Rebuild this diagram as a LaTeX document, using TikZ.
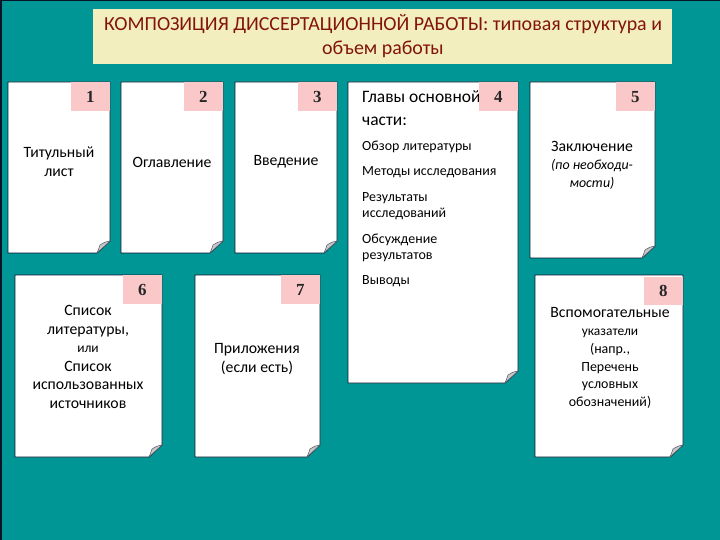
\documentclass[tikz,border=0pt]{standalone}
\usepackage{fontspec}
\setmainfont{Carlito}
\newfontfamily\numfont{Liberation Serif}
\definecolor{bgteal}{RGB}{0,150,150}
\definecolor{titlefill}{RGB}{242,238,190}
\definecolor{titletext}{RGB}{130,20,10}
\definecolor{numfill}{RGB}{250,200,200}
\definecolor{edgecol}{RGB}{10,20,40}
\tikzset{
  pageline/.style={fill=white, draw=edgecol, line width=0.9bp},
  flap/.style={fill=black!22, draw=edgecol!70, line width=0.5bp},
  numbox/.style={fill=numfill, inner sep=0pt, minimum width=39bp, minimum height=29bp, anchor=north east, font=\numfont\bfseries\fontsize{17}{18}\selectfont, text=black!85},
  ptext/.style={align=center, font=\fontsize{15.8}{19}\selectfont, text=black, inner sep=0pt},
  ltext/.style={align=left, anchor=west, font=\fontsize{14}{16}\selectfont, text=black, inner sep=0pt},
}
\newcommand{\dpage}[4]{%
  \draw[pageline] (#1,#2) -- (#3,#2) -- (#3,#4-12) -- (#3-13,#4) -- (#1,#4) -- cycle;
  \draw[flap] (#3,#4-12) .. controls (#3-5,#4-11) .. (#3-10,#4-8) .. controls (#3-11,#4-5) .. (#3-13,#4) -- cycle;
}
\begin{document}
\begin{tikzpicture}[x=1bp,y=-1bp]
\useasboundingbox (0,0) rectangle (720,540);
\fill[bgteal] (0,0) rectangle (720,540);
\draw[edgecol, line width=3bp] (0,540) -- (0,0) -- (720,0);
% title
\node[fill=titlefill, minimum width=579bp, minimum height=55bp, anchor=north west, inner sep=0pt] (title) at (93,9) {};
\node[text=titletext, align=center, font=\fontsize{20}{24}\selectfont] (titletxt) at (383,36) {КОМПОЗИЦИЯ ДИССЕРТАЦИОННОЙ РАБОТЫ: типовая структура и\\объем работы};
% pages
\dpage{8}{82}{110}{253}
\dpage{121}{82}{223}{253}
\dpage{235}{82}{337}{253}
\dpage{348}{82}{518}{383}
\dpage{530}{82}{655}{258}
\dpage{15}{275}{162}{457}
\dpage{195}{275}{320}{457}
\dpage{535}{275}{683}{457}
% texts
\node[ptext] (t1) at (59,162) {Титульный\\лист};
\node[ptext] (t2) at (172,162) {Оглавление};
\node[ptext] (t3) at (286,162) {Введение};
\node[ltext, font=\fontsize{17.5}{23}\selectfont] (t4a) at (362,108) {Главы основной\\части:};
\node[ltext] (t4b) at (362,147) {Обзор литературы};
\node[ltext] (t4c) at (362,172) {Методы исследования};
\node[ltext, font=\fontsize{14}{15.5}\selectfont] (t4d) at (362,206) {Результаты\\исследований};
\node[ltext, font=\fontsize{14}{15.5}\selectfont] (t4e) at (362,248) {Обсуждение\\результатов};
\node[ltext] (t4f) at (362,281) {Выводы};
\node[ptext, font=\fontsize{15.8}{18}\selectfont] (t5) at (592,165) {Заключение\\\fontsize{14}{17}\selectfont\itshape (по необходи-\\\fontsize{14}{17}\selectfont\itshape мости)};
\node[ptext, font=\fontsize{15.8}{18.6}\selectfont] (t6) at (88,357) {Список\\литературы,\\{\fontsize{13.5}{18.6}\selectfont или}\\Список\\использованных\\источников};
\node[ptext] (t7) at (257,359) {Приложения\\(если есть)};
\node[ptext, font=\fontsize{15.8}{18}\selectfont] (t8) at (610,358) {Вспомогательные\\{\fontsize{13.5}{18}\selectfont указатели}\\{\fontsize{14}{18}\selectfont (напр.,}\\{\fontsize{14}{18}\selectfont Перечень}\\{\fontsize{14}{18}\selectfont условных}\\{\fontsize{14}{18}\selectfont обозначений)}};
% number boxes
\node[numbox] (n1) at (110,82) {1};
\node[numbox] (n2) at (223,82) {2};
\node[numbox] (n3) at (337,82) {3};
\node[numbox] (n4) at (518,82) {4};
\node[numbox] (n5) at (655,82) {5};
\node[numbox] (n6) at (162,275) {6};
\node[numbox] (n7) at (320,275) {7};
\node[numbox, minimum height=28bp] (n8) at (683,277) {8};
\end{tikzpicture}
\end{document}
